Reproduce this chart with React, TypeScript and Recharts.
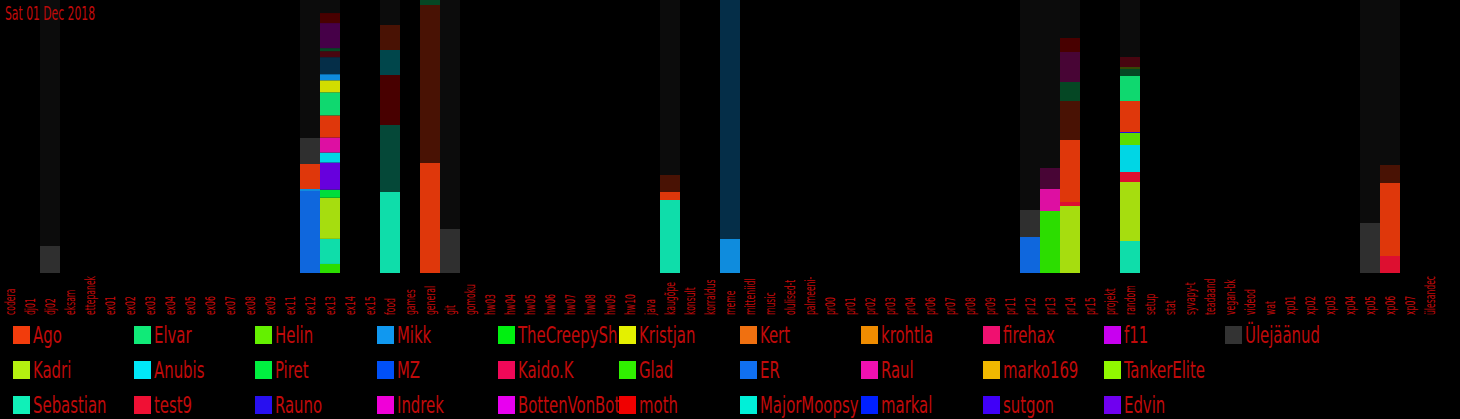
import React from "react";
import { BarChart, Bar, XAxis, YAxis, Cell } from "recharts";

const RED = "#c00a0a";
const FONT = "'Liberation Sans Narrow', 'DejaVu Sans Condensed', sans-serif";

const channels = [
  "codera", "dj01", "dj02", "eksam", "ettepanek", "ex01", "ex02", "ex03", "ex04", "ex05",
  "ex06", "ex07", "ex08", "ex09", "ex11", "ex12", "ex13", "ex14", "ex15", "food",
  "games", "general", "git", "gomoku", "hw03", "hw04", "hw05", "hw06", "hw07", "hw08",
  "hw09", "hw10", "java", "kaugõpe", "konsult", "korraldus", "meme", "mitteniidl", "music", "olulised-t",
  "palmeeni-", "pr00", "pr01", "pr02", "pr03", "pr04", "pr06", "pr07", "pr08", "pr09",
  "pr11", "pr12", "pr13", "pr14", "pr15", "projekt", "random", "setup", "stat", "syvapy-t",
  "teadaand", "vegan-bk", "videod", "wat", "xp01", "xp02", "xp03", "xp04", "xp05", "xp06",
  "xp07", "ülesandec",
];

// legend, column by column
const users = [
  "Ago", "Kadri", "Sebastian", "Elvar", "Anubis", "test9", "Helin", "Piret", "Rauno",
  "Mikk", "MZ", "Indrek", "TheCreepySh", "Kaido.K", "BottenVonBot", "Kristjan", "Glad", "moth",
  "Kert", "ER", "MajorMoopsy", "krohtla", "Raul", "markal", "firehax", "marko169", "sutgon",
  "f11", "TankerElite", "Edvin", "Ülejäänud",
];

const userColors: Record<string, string> = {
  Ago: "#f23c0c", Kadri: "#b4f010", Sebastian: "#10f0b8", Elvar: "#10ea78", Anubis: "#00e8f8",
  test9: "#f01034", Helin: "#64f000", Piret: "#00f040", Rauno: "#2810f0", Mikk: "#1098f0",
  MZ: "#0050f8", Indrek: "#f000d8", TheCreepySh: "#00f010", "Kaido.K": "#f00858",
  BottenVonBot: "#e800f0", Kristjan: "#e4f000", Glad: "#30f000", moth: "#f00000", Kert: "#f07010",
  ER: "#1070f0", MajorMoopsy: "#00f0d8", krohtla: "#f08c00", Raul: "#f010b0", markal: "#0020ff",
  firehax: "#f01070", marko169: "#f0b800", sutgon: "#4000f8", f11: "#c800f0", TankerElite: "#90f800",
  Edvin: "#7000f0", "Ülejäänud": "#333333",
};

// [user, messages, earlier?] from bottom to top
type Seg = [string, number, number?];
const dj02: Seg[] = [["Ülejäänud", 27], ["Ülejäänud", 246, 1]];
const ex12: Seg[] = [["ER", 82], ["Mikk", 2], ["Ago", 25], ["Ülejäänud", 26], ["Ülejäänud", 138, 1]];
const ex13: Seg[] = [
  ["Glad", 9], ["Sebastian", 25], ["Kadri", 41], ["Piret", 8], ["Edvin", 27], ["Anubis", 10],
  ["Raul", 15], ["Ago", 22], ["Elvar", 23], ["Kristjan", 12], ["Mikk", 6], ["Mikk", 17, 1],
  ["test9", 6, 1], ["Elvar", 3, 1], ["BottenVonBot", 25, 1], ["moth", 10, 1], ["Ülejäänud", 13, 1],
];
const food: Seg[] = [["Sebastian", 81], ["Sebastian", 67, 1], ["moth", 50, 1], ["Anubis", 25, 1], ["Ago", 25, 1], ["Ülejäänud", 25, 1]];
const general: Seg[] = [["Ago", 110], ["Ago", 158, 1], ["Elvar", 5, 1]];
const git: Seg[] = [["Ülejäänud", 44], ["Ülejäänud", 229, 1]];
const kaugope: Seg[] = [["Sebastian", 73], ["Ago", 8], ["Ago", 17, 1], ["Ülejäänud", 175, 1]];
const meme: Seg[] = [["Mikk", 34], ["Mikk", 239, 1]];
const pr12: Seg[] = [["ER", 36], ["Ülejäänud", 27], ["Ülejäänud", 210, 1]];
const pr13: Seg[] = [["Glad", 62], ["Raul", 22], ["Raul", 21, 1], ["Ülejäänud", 168, 1]];
const pr14: Seg[] = [
  ["Kadri", 67], ["test9", 4], ["Ago", 62], ["Ago", 39, 1], ["Elvar", 19, 1], ["Raul", 30, 1],
  ["moth", 14, 1], ["Ülejäänud", 38, 1],
];
const random: Seg[] = [
  ["Sebastian", 32], ["Kadri", 59], ["test9", 10], ["Anubis", 27], ["Helin", 12], ["Rauno", 1],
  ["Ago", 31], ["Elvar", 25], ["Elvar", 7, 1], ["Kadri", 2, 1], ["test9", 10, 1], ["Ülejäänud", 57, 1],
];
const xp05: Seg[] = [["Ülejäänud", 50], ["Ülejäänud", 223, 1]];
const xp06: Seg[] = [["test9", 17], ["Ago", 73], ["Ago", 18, 1], ["Ülejäänud", 165, 1]];

const segments: Record<string, Seg[]> = {
  dj02, ex12, ex13, food, general, git, "kaugõpe": kaugope, meme, pr12, pr13, pr14, random, xp05, xp06,
};

const slots = Math.max(...Object.values(segments).map((s) => s.length));

const rows = channels.map((name) => {
  const row: Record<string, any> = { name };
  (segments[name] || []).forEach(([u, v, old], i) => {
    row[`s${i}`] = v;
    row[`u${i}`] = u;
    row[`o${i}`] = old ? 1 : 0;
  });
  return row;
});

// older messages are drawn faded; the grey rest fades a little further
const fade = (u: string) => (u === "Ülejäänud" ? 0.24 : 0.3);

function ChannelTick({ x, payload }: any) {
  return (
    <g transform={`translate(${x + 5},315) rotate(-90)`}>
      <text transform="scale(0.61,1)" fill={RED} fontSize={14} fontFamily={FONT}>
        {payload.value}
      </text>
    </g>
  );
}

function Squeezed({ children, k }: { children: React.ReactNode; k: number }) {
  return (
    <span style={{ display: "inline-block", transform: `scaleX(${k})`, transformOrigin: "left", whiteSpace: "nowrap" }}>
      {children}
    </span>
  );
}

export default function App() {
  return (
    <div style={{ position: "relative", width: 1460, height: 419, background: "#000", overflow: "hidden" }}>
      <style>{"body{margin:0;background:#000}"}</style>
      <BarChart
        width={1460}
        height={319}
        data={rows}
        stackOffset="expand"
        barCategoryGap={0}
        margin={{ top: 0, right: 20, bottom: 0, left: 0 }}
      >
        <XAxis dataKey="name" interval={0} height={46} axisLine={false} tickLine={false} tick={<ChannelTick />} />
        <YAxis hide domain={[0, 1]} />
        {Array.from({ length: slots }, (_, i) => (
          <Bar key={i} dataKey={`s${i}`} stackId="a" isAnimationActive={false}>
            {rows.map((r) => (
              <Cell
                key={r.name}
                fill={userColors[r[`u${i}`]] || "#000"}
                fillOpacity={r[`o${i}`] ? fade(r[`u${i}`]) : 0.92}
              />
            ))}
          </Bar>
        ))}
      </BarChart>
      <div style={{ position: "absolute", left: 5, top: 1, color: RED, fontFamily: FONT, fontSize: 20 }}>
        <Squeezed k={0.6}>Sat 01 Dec 2018</Squeezed>
      </div>
      {users.map((u, i) => {
        const col = Math.floor(i / 3);
        const row = i % 3;
        return (
          <div
            key={u}
            style={{
              position: "absolute",
              left: 13 + col * 121.2,
              top: 318 + row * 35,
              width: 121,
              height: 34,
              overflow: "hidden",
              display: "flex",
              alignItems: "flex-start",
            }}
          >
            <div style={{ width: 17, height: 18, marginTop: 8, background: userColors[u], flex: "none" }} />
            <div style={{ marginLeft: 3, marginTop: 4, color: RED, fontFamily: FONT, fontSize: 23, lineHeight: "26px" }}>
              <Squeezed k={0.72}>{u}</Squeezed>
            </div>
          </div>
        );
      })}
    </div>
  );
}
